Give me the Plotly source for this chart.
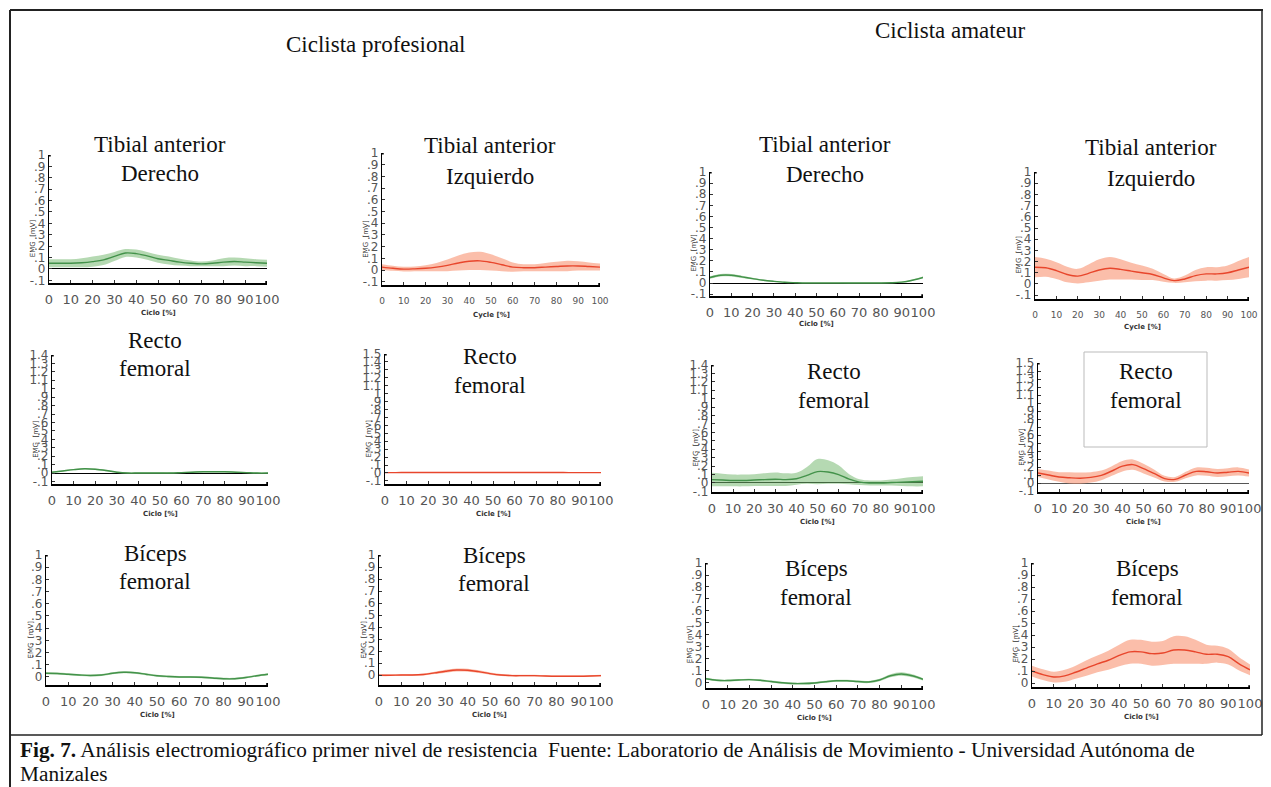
import plotly.graph_objects as go

W, H = 1271, 787

# ---------------- data ----------------
cycle = [0, 5, 10, 15, 20, 25, 30, 35, 40, 45, 50, 55, 60, 65, 70, 75, 80, 85, 90, 95, 100]

# Ciclista profesional
pro_ta_der_mean = [.05, .05, .05, .055, .065, .08, .11, .14, .135, .115, .09, .075, .06, .05, .045, .05, .06, .065, .06, .055, .05]
pro_ta_der_sd = [.035, .035, .035, .04, .045, .045, .04, .035, .035, .035, .035, .035, .03, .025, .02, .025, .035, .035, .035, .03, .03]
pro_ta_izq_mean = [.025, .015, .008, .01, .015, .025, .04, .06, .075, .078, .065, .045, .025, .02, .02, .025, .03, .035, .035, .03, .025]
pro_ta_izq_sd = [.025, .022, .02, .02, .025, .035, .05, .065, .075, .078, .07, .055, .04, .03, .03, .035, .04, .045, .04, .035, .03]
pro_rf_der_mean = [.01, .025, .04, .05, .045, .03, .01, .0, .0, .0, .0, .0, .005, .01, .015, .015, .015, .01, .005, .0, .0]
pro_rf_der_sd = [.008] * 21
pro_rf_izq_mean = [.005, .005, .006, .006, .006, .006, .006, .006, .006, .006, .006, .006, .006, .006, .006, .006, .006, .005, .005, .005, .005]
pro_rf_izq_sd = [.005] * 21
pro_bf_der_mean = [.03, .028, .022, .016, .012, .016, .03, .038, .035, .022, .01, .004, .0, .0, -.002, -.008, -.015, -.015, -.005, .01, .022]
pro_bf_der_sd = [.008] * 21
pro_bf_izq_mean = [-.002, -.002, .0, .0, .005, .018, .032, .042, .04, .028, .012, .0, -.005, -.005, -.005, -.008, -.01, -.01, -.01, -.008, -.005]
pro_bf_izq_sd = [.007, .007, .007, .007, .008, .01, .012, .013, .012, .011, .009, .008, .007, .007, .007, .007, .007, .007, .007, .007, .007]

# Ciclista amateur
ama_ta_der_mean = [.05, .07, .07, .055, .04, .025, .015, .007, .003, .0, .0, .0, .0, .0, .0, .0, .0, .002, .008, .025, .05]
ama_ta_der_sd = [.012, .012, .012, .01, .008, .006, .005, .004, .003, .003, .003, .003, .003, .004, .004, .004, .004, .004, .005, .006, .008]
ama_ta_izq_mean = [.15, .145, .12, .085, .07, .095, .125, .14, .13, .115, .1, .085, .055, .03, .045, .075, .09, .09, .1, .125, .15]
ama_ta_izq_sd = [.09, .08, .075, .07, .065, .08, .095, .1, .09, .075, .065, .05, .035, .02, .03, .05, .06, .06, .065, .08, .09]
ama_rf_der_mean = [.04, .035, .03, .03, .035, .04, .045, .04, .05, .09, .135, .13, .1, .045, .01, .0, .0, .005, .01, .015, .02]
ama_rf_der_sd = [.08, .075, .07, .07, .07, .075, .08, .075, .07, .1, .15, .14, .11, .06, .035, .03, .03, .035, .045, .055, .06]
ama_rf_izq_mean = [.125, .1, .075, .065, .06, .07, .095, .15, .21, .23, .18, .12, .055, .045, .1, .145, .14, .125, .135, .145, .125]
ama_rf_izq_sd = [.05, .055, .06, .07, .07, .065, .06, .06, .065, .065, .06, .05, .035, .03, .04, .05, .05, .05, .05, .05, .045]
ama_bf_der_mean = [.035, .022, .02, .025, .028, .022, .012, .002, -.005, -.005, .0, .01, .018, .018, .012, .008, .025, .06, .075, .06, .03]
ama_bf_der_sd = [.008, .008, .008, .008, .008, .008, .008, .008, .008, .008, .008, .008, .008, .008, .008, .009, .01, .012, .014, .012, .01]
ama_bf_izq_mean = [.1, .07, .05, .06, .09, .125, .16, .19, .23, .26, .26, .245, .25, .275, .275, .26, .24, .24, .22, .16, .11]
ama_bf_izq_sd = [.045, .045, .045, .05, .055, .065, .07, .08, .09, .1, .1, .1, .1, .115, .115, .1, .08, .07, .065, .055, .045]

x_ticks = [0, 10, 20, 30, 40, 50, 60, 70, 80, 90, 100]

GREEN_LINE = "#43924a"
GREEN_BAND = "rgba(120,185,115,0.55)"
RED_LINE = "#e8462c"
RED_BAND = "rgba(248,150,118,0.62)"

# panel: (title lines, mean, sd, colour, px box (left,right,top,bottom), y range, ymax tick, x title,
#         title px centre (x, y1, y2), zero line, xtick font size)
panels = [
    (["Tibial anterior", "Derecho"], pro_ta_der_mean, pro_ta_der_sd, "g", (49, 267, 155, 283), (-0.123, 1.0), 1.0, "Ciclo [%]", (160, 144, 173), True, 13),
    (["Tibial anterior", "Izquierdo"], pro_ta_izq_mean, pro_ta_izq_sd, "r", (382, 600, 153, 285), (-0.128, 1.0), 1.0, "Cycle [%]", (490, 146, 176), False, 9),
    (["Tibial anterior", "Derecho"], ama_ta_der_mean, ama_ta_der_sd, "g", (710, 923, 172, 296), (-0.117, 1.0), 1.0, "Ciclo [%]", (825, 144, 174), True, 13),
    (["Tibial anterior", "Izquierdo"], ama_ta_izq_mean, ama_ta_izq_sd, "r", (1035, 1249, 172, 299), (-0.134, 1.0), 1.0, "Cycle [%]", (1151, 148, 178), False, 9),
    (["Recto", "femoral"], pro_rf_der_mean, pro_rf_der_sd, "g", (52, 268, 355, 484), (-0.13, 1.4), 1.4, "Ciclo [%]", (155, 340, 368), True, 13),
    (["Recto", "femoral"], pro_rf_izq_mean, pro_rf_izq_sd, "r", (385, 601, 354, 484), (-0.139, 1.5), 1.5, "Cicle [%]", (490, 356, 385), True, 13),
    (["Recto", "femoral"], ama_rf_der_mean, ama_rf_der_sd, "g", (712, 923, 365, 492), (-0.107, 1.4), 1.4, "Ciclo [%]", (834, 372, 401), True, 13),
    (["Recto", "femoral"], ama_rf_izq_mean, ama_rf_izq_sd, "r", (1038, 1249, 363, 492), (-0.1125, 1.5), 1.5, "Cicle [%]", (1146, 372, 401), True, 13),
    (["Bíceps", "femoral"], pro_bf_der_mean, pro_bf_der_sd, "g", (46, 268, 555, 685), (-0.066, 1.0), 1.0, "Ciclo [%]", (155, 553, 581), False, 13),
    (["Bíceps", "femoral"], pro_bf_izq_mean, pro_bf_izq_sd, "r", (379, 601, 555, 685), (-0.083, 1.0), 1.0, "Ciclo [%]", (494, 555, 583), False, 13),
    (["Bíceps", "femoral"], ama_bf_der_mean, ama_bf_der_sd, "g", (706, 923, 563, 688), (-0.042, 1.0), 1.0, "Ciclo [%]", (816, 568, 597), False, 13),
    (["Bíceps", "femoral"], ama_bf_izq_mean, ama_bf_izq_sd, "r", (1032, 1250, 563, 687), (-0.033, 1.0), 1.0, "Ciclo [%]", (1147, 568, 597), False, 13),
]


def px_x(x):
    return x / W


def px_y(y):
    return 1 - y / H


def tick_text(v):
    v = round(v, 1)
    if v == 0:
        return "0"
    if v == 1:
        return "1"
    s = f"{v:.1f}"
    if s.startswith("0."):
        s = s[1:]
    elif s.startswith("-0."):
        s = "-" + s[2:]
    return s


fig = go.Figure()
annotations = []
shapes = []
SERIF = "Liberation Serif, Times New Roman, serif"

for i, (tl, mean, sd, col, box, yr, ymax, xtitle, tpos, zline, xfs) in enumerate(panels, start=1):
    left, right, top, bottom = box
    line_c = GREEN_LINE if col == "g" else RED_LINE
    band_c = GREEN_BAND if col == "g" else RED_BAND
    upper = [m + s for m, s in zip(mean, sd)]
    lower = [m - s for m, s in zip(mean, sd)]
    xa = "x" if i == 1 else f"x{i}"
    ya = "y" if i == 1 else f"y{i}"
    fig.add_trace(go.Scatter(x=cycle, y=upper, mode="lines", line=dict(width=0, shape="spline", color=band_c),
                             xaxis=xa, yaxis=ya, showlegend=False, hoverinfo="skip"))
    fig.add_trace(go.Scatter(x=cycle, y=lower, mode="lines", line=dict(width=0, shape="spline", color=band_c),
                             fill="tonexty", fillcolor=band_c, xaxis=xa, yaxis=ya, showlegend=False, hoverinfo="skip"))
    fig.add_trace(go.Scatter(x=cycle, y=mean, mode="lines", line=dict(width=1.4, shape="spline", color=line_c),
                             xaxis=xa, yaxis=ya, showlegend=False))

    ytop_val = ymax
    ytickvals = []
    v = -0.1 if yr[0] < -0.095 else 0.0
    while v <= ymax + 1e-9:
        ytickvals.append(round(v, 1))
        v += 0.1
    yticktext = [tick_text(t) for t in ytickvals]

    xkey = "xaxis" if i == 1 else f"xaxis{i}"
    ykey = "yaxis" if i == 1 else f"yaxis{i}"
    fig.update_layout(**{
        xkey: dict(domain=[px_x(left), px_x(right)], range=[0, 100], anchor=ya, automargin=False,
                   tickvals=x_ticks, ticktext=[str(t) for t in x_ticks], tickangle=0,
                   tickfont=dict(family="DejaVu Sans", size=xfs, color="#555"),
                   showgrid=False, zeroline=False, showline=True, linecolor="black", linewidth=1.5,
                   ticks="inside", ticklen=3, tickcolor="#333", ticklabelstandoff=4 if xfs > 10 else 6,
                   fixedrange=True),
        ykey: dict(domain=[px_y(bottom), px_y(top)], range=[yr[0], ytop_val], anchor=xa, automargin=False,
                   tickvals=ytickvals, ticktext=yticktext,
                   tickfont=dict(family="DejaVu Sans", size=12, color="#555"),
                   showgrid=False, zeroline=zline, zerolinecolor="black" if i != 8 else "#555", zerolinewidth=1.3,
                   showline=True, linecolor="black", linewidth=1.2,
                   ticks="inside", ticklen=3, tickcolor="#333", ticklabelstandoff=0,
                   fixedrange=True),
    })

    # small end markers at axis tips
    shapes.append(dict(type="rect", xref=xa, yref=ya, x0=-0.8, x1=0.8,
                       y0=ytop_val - (ytop_val - yr[0]) * 0.012, y1=ytop_val + (ytop_val - yr[0]) * 0.012,
                       fillcolor="black", line=dict(width=0)))
    shapes.append(dict(type="rect", xref=xa, yref=ya, x0=99.2, x1=100.8,
                       y0=yr[0] - (ytop_val - yr[0]) * 0.015, y1=yr[0] + (ytop_val - yr[0]) * 0.015,
                       fillcolor="black", line=dict(width=0)))

    # panel titles
    cx, y1, y2 = tpos
    for txt, yy in zip(tl, (y1, y2)):
        annotations.append(dict(text=txt, x=px_x(cx), y=px_y(yy), xref="paper", yref="paper",
                                xanchor="center", yanchor="middle", showarrow=False,
                                font=dict(family=SERIF, size=23, color="#111")))
    # axis titles
    xt_y = bottom + (28 if i in (3, 4) else 30)
    annotations.append(dict(text=f"<b>{xtitle}</b>", x=px_x((left + right) / 2), y=px_y(xt_y), xref="paper", yref="paper",
                            xanchor="center", yanchor="middle", showarrow=False,
                            font=dict(family="DejaVu Sans", size=7, color="#333")))
    annotations.append(dict(text="EMG  [mV]", x=px_x(left - 16), y=px_y(bottom - (bottom - top) * 0.35), xref="paper", yref="paper",
                            xanchor="center", yanchor="middle", showarrow=False, textangle=-90,
                            font=dict(family="DejaVu Sans", size=7, color="#333")))

# headings
annotations.append(dict(text="Ciclista profesional", x=px_x(376), y=px_y(45), xref="paper", yref="paper",
                        xanchor="center", yanchor="middle", showarrow=False,
                        font=dict(family=SERIF, size=23, color="#111")))
annotations.append(dict(text="Ciclista amateur", x=px_x(950), y=px_y(31), xref="paper", yref="paper",
                        xanchor="center", yanchor="middle", showarrow=False,
                        font=dict(family=SERIF, size=23, color="#111")))
# caption
annotations.append(dict(text="<b>Fig. 7.</b> Análisis electromiográfico primer nivel de resistencia  Fuente: Laboratorio de Análisis de Movimiento - Universidad Autónoma de",
                        x=px_x(18), y=px_y(750), xref="paper", yref="paper",
                        xanchor="left", yanchor="middle", showarrow=False,
                        font=dict(family=SERIF, size=21.3, color="#111")))
annotations.append(dict(text="Manizales", x=px_x(18), y=px_y(774), xref="paper", yref="paper",
                        xanchor="left", yanchor="middle", showarrow=False,
                        font=dict(family=SERIF, size=21.3, color="#111")))

# frame lines
shapes += [
    dict(type="line", xref="paper", yref="paper", x0=px_x(10), x1=px_x(1263), y0=px_y(10), y1=px_y(10), line=dict(color="#222", width=2)),
    dict(type="line", xref="paper", yref="paper", x0=px_x(10), x1=px_x(10), y0=px_y(10), y1=px_y(787), line=dict(color="#222", width=2)),
    dict(type="line", xref="paper", yref="paper", x0=px_x(1262), x1=px_x(1262), y0=px_y(10), y1=px_y(735), line=dict(color="#222", width=1.5)),
    dict(type="line", xref="paper", yref="paper", x0=px_x(10), x1=px_x(1262), y0=px_y(735), y1=px_y(735), line=dict(color="#222", width=1.5)),
    dict(type="rect", xref="paper", yref="paper", x0=px_x(1084), x1=px_x(1207), y0=px_y(447), y1=px_y(352),
         line=dict(color="#bbb", width=1)),
]

fig.update_layout(width=W, height=H, margin=dict(l=0, r=0, t=0, b=0, autoexpand=False), autosize=False,
                  paper_bgcolor="white", plot_bgcolor="rgba(0,0,0,0)",
                  annotations=annotations, shapes=shapes, showlegend=False)

fig.write_html("out.html", config={"displayModeBar": False})
